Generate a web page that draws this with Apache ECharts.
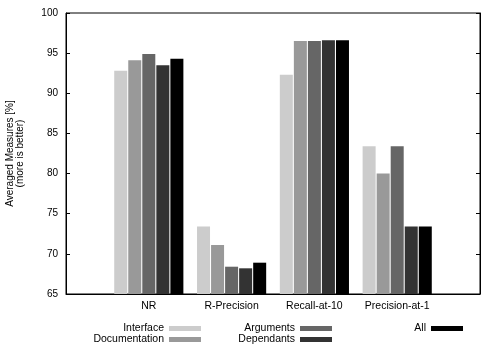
<!DOCTYPE html>
<html>
<head>
<meta charset="utf-8">
<script src="https://cdn.jsdelivr.net/npm/echarts@6/dist/echarts.min.js"></script>
<style>html,body{margin:0;padding:0;background:#fff}#c{width:500px;height:350px}</style>
</head>
<body>
<div id="c"></div>
<script>
var categories = ['', 'NR', 'R-Precision', 'Recall-at-10', 'Precision-at-1', ''];
var seriesNames = ['Interface', 'Documentation', 'Arguments', 'Dependants', 'All'];
var interfaceVals     = ['-', 92.8, 73.4, 92.3, 83.4, '-'];
var documentationVals = ['-', 94.1, 71.1, 96.5, 80.0, '-'];
var argumentsVals     = ['-', 94.9, 68.4, 96.5, 83.4, '-'];
var dependantsVals    = ['-', 93.5, 68.2, 96.6, 73.4, '-'];
var allVals           = ['-', 94.3, 68.9, 96.6, 73.4, '-'];
var colors = ['#cccccc', '#999999', '#666666', '#333333', '#000000'];
var yMin = 65, yMax = 100, yStep = 5;

var font = 'Liberation Sans, Arial, Helvetica, sans-serif';
var chart = echarts.init(document.getElementById('c'), null, {renderer: 'canvas'});
var allData = [interfaceVals, documentationVals, argumentsVals, dependantsVals, allVals];
var series = seriesNames.map(function (n, i) {
  return {
    name: n, type: 'bar', data: allData[i],
    barWidth: 13, barGap: '8%',
    itemStyle: {color: colors[i]},
    animation: false
  };
});
function legend(names, right) {
  return {
    data: names, orient: 'vertical', align: 'right', right: right, top: 323,
    padding: 0, itemGap: 0, itemWidth: 32, itemHeight: 5, icon: 'rect',
    selectedMode: false,
    textStyle: {fontFamily: font, fontSize: 10.5, color: '#000', lineHeight: 11}
  };
}
chart.setOption({
  animation: false,
  backgroundColor: '#fff',
  color: colors,
  grid: {left: 66, top: 13, width: 414, height: 281, show: true, borderColor: '#000', borderWidth: 1,
         containLabel: false, outerBoundsMode: 'none'},
  legend: [
    legend(['Interface', 'Documentation'], 299),
    legend(['Arguments', 'Dependants'], 168),
    legend(['All'], 37)
  ],
  xAxis: {
    type: 'category', data: categories, boundaryGap: false,
    axisLine: {lineStyle: {color: '#000', width: 1}},
    axisTick: {show: false},
    axisLabel: {fontFamily: font, fontSize: 10.5, color: '#000', margin: 7, interval: 0},
    splitLine: {show: false}
  },
  yAxis: [{
    type: 'value', min: yMin, max: yMax, interval: yStep,
    name: 'Averaged Measures [%]\n(more is better)',
    nameLocation: 'middle', nameRotate: 90, nameGap: 41,
    nameTextStyle: {fontFamily: font, fontSize: 10, color: '#000', lineHeight: 10},
    axisLine: {show: true, lineStyle: {color: '#000'}},
    axisTick: {show: true, inside: true, length: 4, lineStyle: {color: '#000'}},
    axisLabel: {fontFamily: font, fontSize: 10, color: '#000', margin: 8},
    splitLine: {show: false}
  }, {
    type: 'value', position: 'right', min: yMin, max: yMax, interval: yStep,
    axisLine: {show: true, lineStyle: {color: '#000'}},
    axisTick: {show: true, inside: true, length: 4, lineStyle: {color: '#000'}},
    axisLabel: {show: false},
    splitLine: {show: false}
  }],
  series: series
});
</script>
</body>
</html>
